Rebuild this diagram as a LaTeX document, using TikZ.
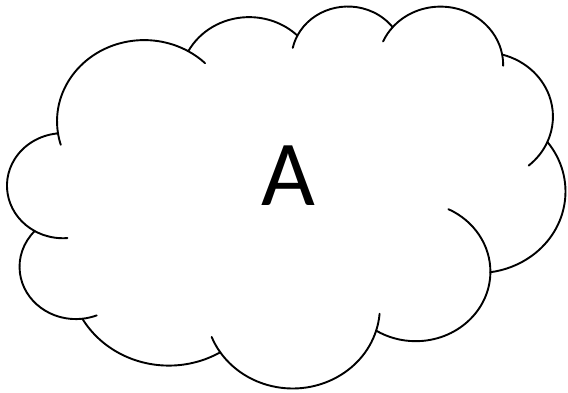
\documentclass[tikz,border=0pt]{standalone}
\usepackage{fontspec}
\setmainfont{Carlito}

\begin{document}
\begin{tikzpicture}[x=1bp, y=-1bp,
    cloudline/.style={draw=black, line width=1.9bp, line join=round},
    stubline/.style={draw=black, line width=1.9bp, line cap=round}]
    \useasboundingbox (0,0) rectangle (568,392);

    \begin{scope}[shift={(7.48,5.25)}, x=1.2911bp, y=-0.8838bp]
        % Outline
        \draw[cloudline, fill=white] (39.00,143.70) coordinate (c0)
            arc[start angle=-187.747, end angle=-59.637, x radius=67.53, y radius=91.90] coordinate (c1)
            arc[start angle=-152.029, end angle=-45.438, x radius=53.33, y radius=72.67] coordinate (c2)
            arc[start angle=-153.481, end angle=-37.320, x radius=43.65, y radius=59.45] coordinate (c3)
            arc[start angle=-139.693, end angle=-10.212, x radius=48.57, y radius=65.95] coordinate (c4)
            arc[start angle=-74.768, end angle=23.209, x radius=53.33, y radius=72.73] coordinate (c5)
            arc[start angle=-37.522, end angle=81.863, x radius=67.75, y radius=92.20] coordinate (c6)
            arc[start angle=0.460, end angle=121.980, x radius=57.85, y radius=78.67] coordinate (c7)
            arc[start angle=16.845, end angle=146.256, x radius=67.52, y radius=92.15] coordinate (c8)
            arc[start angle=58.986, end angle=150.195, x radius=77.20, y radius=105.43] coordinate (c9)
            arc[start angle=-276.694, end angle=-136.902, x radius=43.60, y radius=59.18] coordinate (c10)
            arc[start angle=-239.646, end angle=-95.888, x radius=43.45, y radius=59.45] -- cycle;

        % Inner arcs
        \draw[stubline] (c0) arc[start angle=172.253, end angle=163.192, x radius=67.53, y radius=91.90];
        \draw[stubline] (c1) arc[start angle=-59.637, end angle=-45.747, x radius=67.53, y radius=91.90];
        \draw[stubline] (c2) arc[start angle=-153.481, end angle=-167.726, x radius=43.65, y radius=59.45];
        \draw[stubline] (c3) arc[start angle=-139.693, end angle=-156.286, x radius=48.57, y radius=65.95];
        \draw[stubline] (c4) arc[start angle=-10.212, end angle=0.821, x radius=48.57, y radius=65.95];
        \draw[stubline] (c5) arc[start angle=23.209, end angle=49.654, x radius=53.33, y radius=72.73];
        \draw[stubline] (c6) arc[start angle=0.460, end angle=-64.025, x radius=57.85, y radius=78.67];
        \draw[stubline] (c7) arc[start angle=16.845, end angle=4.738, x radius=67.52, y radius=92.15];
        \draw[stubline] (c8) arc[start angle=146.256, end angle=158.474, x radius=67.52, y radius=92.15];
        \draw[stubline] (c9) arc[start angle=83.306, end angle=68.234, x radius=43.60, y radius=59.18];
        \draw[stubline] (c10) arc[start angle=120.354, end angle=85.546, x radius=43.45, y radius=59.45];
    \end{scope}

    % Label
    \node[font=\fontsize{93bp}{93bp}\selectfont, inner sep=0pt] (label) at (288,175.5) {A};
\end{tikzpicture}
\end{document}
